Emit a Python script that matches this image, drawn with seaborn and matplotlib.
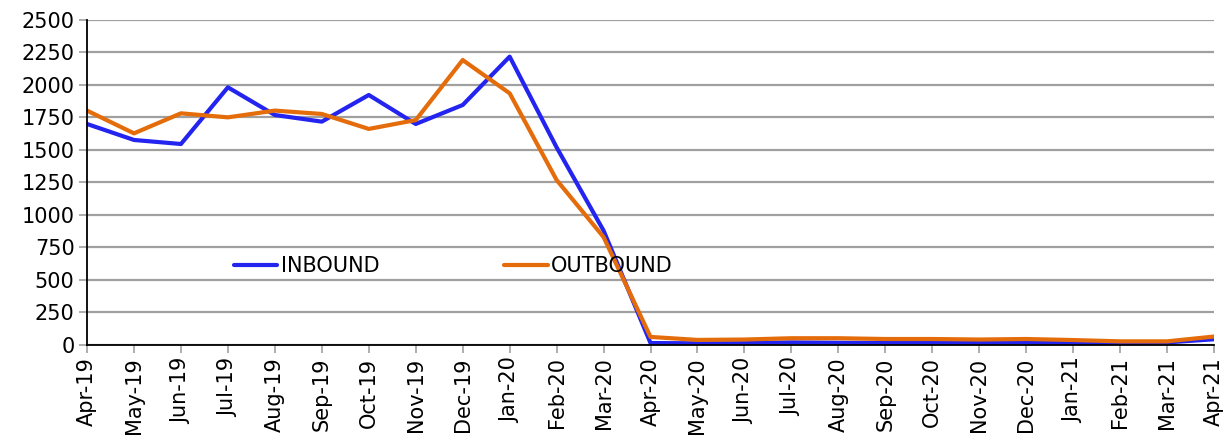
import matplotlib
matplotlib.use("Agg")
import matplotlib.pyplot as plt
import seaborn as sns
import pandas as pd

months = ["Apr-19", "May-19", "Jun-19", "Jul-19", "Aug-19", "Sep-19", "Oct-19", "Nov-19",
          "Dec-19", "Jan-20", "Feb-20", "Mar-20", "Apr-20", "May-20", "Jun-20", "Jul-20",
          "Aug-20", "Sep-20", "Oct-20", "Nov-20", "Dec-20", "Jan-21", "Feb-21", "Mar-21", "Apr-21"]
inbound = [1700, 1577, 1546, 1982, 1769, 1718, 1923, 1700, 1846, 2218, 1520, 880,
           15, 13, 14, 20, 17, 15, 15, 16, 20, 16, 14, 20, 44]
outbound = [1803, 1628, 1782, 1751, 1803, 1777, 1662, 1730, 2192, 1936, 1269, 830,
            62, 39, 42, 52, 52, 46, 46, 42, 46, 38, 28, 28, 65]

df = pd.DataFrame({
    "idx": list(range(len(months))) * 2,
    "value": inbound + outbound,
    "series": ["INBOUND"] * len(months) + ["OUTBOUND"] * len(months),
})

sns.set_theme(style="white")
plt.rcParams["font.family"] = ["DejaVu Sans"]
plt.rcParams["text.color"] = "black"
plt.rcParams["xtick.labelcolor"] = "black"
plt.rcParams["ytick.labelcolor"] = "black"

fig = plt.figure(figsize=(12.31, 4.44), dpi=100)
ax = fig.add_axes([0.0707, 0.223, 0.9155, 0.732])

sns.lineplot(data=df, x="idx", y="value", hue="series",
             palette={"INBOUND": "#2424F0", "OUTBOUND": "#E46C0A"},
             linewidth=3, ax=ax, legend=True)

ax.set_xlim(0, len(months) - 1)
ax.set_ylim(0, 2500)
ax.set_yticks(range(0, 2501, 250))
ax.set_xticks(range(len(months)))
ax.set_xticklabels(months, rotation=90, fontsize=15)
ax.tick_params(axis="y", labelsize=15)
ax.set_xlabel("")
ax.set_ylabel("")

ax.yaxis.grid(True, color="#A0A0A0", linewidth=1.6)
ax.set_axisbelow(True)
for s in ["top", "right"]:
    ax.spines[s].set_visible(False)
for s in ["left", "bottom"]:
    ax.spines[s].set_color("black")
    ax.spines[s].set_linewidth(1.3)

ax.tick_params(axis="both", which="major", direction="out", length=6,
               width=1.2, color="#A0A0A0", bottom=True, left=True, pad=3,
               labelcolor="black")

leg = ax.legend(loc="center", bbox_to_anchor=(0.325, 0.243), ncol=2,
                frameon=False, fontsize=15, handlelength=2.1,
                handletextpad=0.15, columnspacing=6.0)
for line in leg.get_lines():
    line.set_linewidth(3)
for t in leg.get_texts():
    t.set_color("black")

fig.savefig("out.png", dpi=100)
